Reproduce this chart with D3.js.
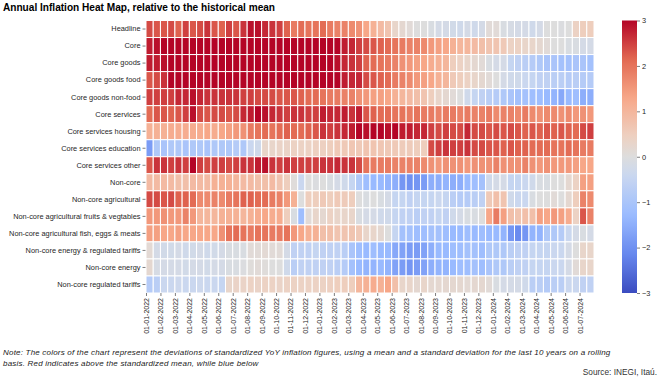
<!DOCTYPE html>
<html>
<head>
<meta charset="utf-8">
<script src="https://cdn.jsdelivr.net/npm/d3@7"></script>
<style>
  body { margin: 0; background: #fff; }
  svg { display: block; font-family: "Liberation Sans", Arial, sans-serif; }
</style>
</head>
<body>
<script>
// Row labels (top to bottom)
const rowNames = [
  'Headline', 'Core', 'Core goods', 'Core goods food', 'Core goods non-food',
  'Core services', 'Core services housing', 'Core services education', 'Core services other',
  'Non-core', 'Non-core agricultural', 'Non-core agricultural fruits & vegtables',
  'Non-core agricultural fish, eggs & meats', 'Non-core energy & regulated tariffs',
  'Non-core energy', 'Non-core regulated tariffs'
]

// x tick labels, one per month (every 2nd biweekly column)
const periods = [
  '01-01-2022', '01-02-2022', '01-03-2022', '01-04-2022', '01-05-2022', '01-06-2022',
  '01-07-2022', '01-08-2022', '01-09-2022', '01-10-2022', '01-11-2022', '01-12-2022',
  '01-01-2023', '01-02-2023', '01-03-2023', '01-04-2023', '01-05-2023', '01-06-2023',
  '01-07-2023', '01-08-2023', '01-09-2023', '01-10-2023', '01-11-2023', '01-12-2023',
  '01-01-2024', '01-02-2024', '01-03-2024', '01-04-2024', '01-05-2024', '01-06-2024',
  '01-07-2024'
]

// colorbar ticks
const cbarTicks = [-3, -2, -1, 0, 1, 2, 3]

// standardized deviations, biweekly, 62 columns each
const headline = [2.4,2.3,2.3,2.4,2.2,2.5,2.3,2.4,2.6,2.3,2.2,2.5,2.3,2.6,2.9,2.9,2.7,2.6,2.5,2.2,1.9,
  2.1,2.0,2.0,2.1,1.9,1.8,1.8,1.7,1.6,1.3,1.1,0.9,0.7,0.3,0.2,0.1,0.0,0.0,-0.1,-0.2,-0.2,
  -0.25,-0.3,-0.2,-0.3,-0.2,0.1,0.1,-0.1,-0.15,-0.2,-0.2,-0.3,-0.2,0.0,0.0,-0.05,0.0,0.4,0.5,0.5]
const core = [2.8,2.9,3,3,3,3,3,3,3,3,3,3,3,3,3,3,3,3,3,3,3,3,3,3,3,3,
  3,2.8,2.7,2.5,2.4,2.3,2.2,2.1,2.0,1.9,1.8,1.8,1.7,1.5,1.4,1.3,
  1.1,1.0,1.0,0.9,0.8,0.7,0.7,0.6,0.4,0.4,0.3,0.3,0.2,0.1,0.0,0.0,-0.1,-0.1,-0.2,-0.2]
const coreGoods = [2.8,2.8,2.9,3,3,3,3,3,3,3,3,3,3,3,3,3,3,3,3,3,3,3,3,3,3,3,
  2.9,2.7,2.6,2.5,2.2,2.1,2.0,1.9,1.8,1.6,1.5,1.4,1.3,1.2,1.1,1.0,
  0.5,0.4,0.3,0.2,0.1,-0.1,-0.2,-0.2,-0.5,-0.6,-0.7,-0.8,-0.9,-1.0,-1.0,-1.1,-1.1,-1.0,-1.0,-1.1]
const coreGoodsFood = [2.3,2.4,2.6,3,3,3,3,3,3,3,3,3,3,3,3,3,3,3,3,3,3,3,3,3,3,3,
  3.0,2.8,2.7,2.7,2.4,2.3,2.2,2.1,1.9,1.8,1.7,1.5,1.4,1.3,1.1,1.0,
  0.6,0.5,0.4,0.3,0.2,0.1,0.0,-0.2,-0.3,-0.3,-0.4,-0.5,-0.6,-0.6,-0.7,-0.7,-0.8,-0.7,-0.8,-0.8]
const coreGoodsNonFood = [2.5,2.5,2.5,2.5,2.7,2.7,2.9,2.7,2.6,2.6,2.6,2.6,2.6,2.5,2.5,2.4,2.4,2.4,2.3,2.3,2.3,
  2.2,2.1,2.1,2.0,1.9,1.9,1.8,1.8,1.6,1.5,1.4,1.4,1.3,1.1,1.0,0.9,0.8,0.7,0.5,0.3,0.2,
  0.1,0.0,-0.3,-0.5,-0.6,-0.7,-0.8,-0.9,-1.0,-1.1,-1.1,-1.2,-1.2,-1.3,-1.4,-1.6,-1.3,-1.2,-1.5,-1.5]
const coreServices = [2.1,2.3,2.3,2.2,2.3,2.5,2.9,2.4,2.3,2.4,2.4,2.3,2.4,2.7,2.8,3.0,2.9,2.7,2.6,2.5,2.6,
  2.6,2.5,2.5,2.8,2.7,2.7,2.8,2.6,2.8,2.3,2.2,2.1,2.1,2.0,2.0,1.9,2.0,1.9,1.9,1.8,1.9,
  1.9,1.8,1.9,1.8,1.8,1.9,1.7,1.8,1.8,1.7,1.9,1.7,1.6,1.7,1.7,1.6,1.7,1.5,1.6,1.5]
const coreServicesHousing = [1.1,1.1,1.1,1.2,1.2,1.2,1.2,1.2,1.3,1.2,1.3,1.4,1.5,1.6,1.9,2.0,2.1,2.0,2.1,2.2,2.1,
  2.1,2.2,2.3,2.6,2.5,2.6,2.7,2.8,3.0,2.9,3.0,3.0,2.9,3.0,2.8,2.8,2.7,2.7,2.5,2.4,2.5,
  2.4,2.4,2.7,2.4,2.4,2.3,2.4,2.3,2.4,2.3,2.2,2.3,2.2,2.3,2.2,2.3,2.2,2.1,2.4,2.5]
const coreServicesEducation = [-1.8,-0.9,-1.0,-0.9,-0.9,-1.0,-0.9,-0.9,-1.0,-0.9,-0.9,-0.9,-0.8,-0.9,-0.4,-0.3,
  0.3,0.3,0.35,0.35,0.4,0.4,0.4,0.45,0.45,0.5,0.6,0.6,0.65,0.6,0.7,0.7,0.65,0.6,0.6,0.55,0.55,0.5,0.5,
  2.4,2.5,2.6,2.5,2.5,2.6,2.4,2.4,2.3,2.3,2.2,2.3,2.2,2.2,2.1,2.1,2.1,2.0,2.0,2.1,2.0,1.9,1.9]
const coreServicesOther = [2.3,2.6,2.6,2.5,2.6,2.5,3.0,2.5,2.4,2.5,2.5,2.4,2.5,2.6,2.6,2.8,2.9,2.6,2.5,2.6,2.5,
  2.5,2.5,2.5,2.6,2.6,2.7,2.6,2.6,2.4,2.0,1.9,1.9,1.9,1.8,1.8,1.8,1.8,1.7,1.6,1.5,1.6,
  1.6,1.6,1.5,1.6,1.6,1.6,1.8,1.6,1.6,1.6,1.8,1.6,1.5,1.6,1.5,1.5,1.5,1.4,1.3,1.3]
const nonCore = [0.9,0.9,0.9,0.9,0.8,0.8,0.9,0.9,0.9,1.1,1.1,1.1,1.0,0.9,0.9,0.8,0.8,0.9,0.7,0.5,0.05,
  -0.4,0.0,-0.05,0.0,-0.1,-0.2,-0.3,-0.5,-0.9,-1.2,-1.3,-1.3,-1.4,-1.5,-1.9,-2.0,-1.9,-1.8,-1.5,-1.5,-1.4,
  -1.5,-1.5,-1.3,-1.2,-1.1,-0.3,-0.2,-0.2,-0.5,-0.5,-0.4,-0.3,-0.1,-0.1,0.0,0.0,0.2,0.4,1.4,1.4]
const nonCoreAgri = [2.4,2.4,2.3,2.4,2.2,2.2,2.1,1.7,1.7,1.8,1.7,1.9,2.0,2.2,2.2,2.1,2.1,1.9,1.8,1.5,1.1,
  0.0,0.5,0.5,0.6,0.5,0.6,0.55,0.5,0.0,-0.1,0.0,-0.1,-0.2,-0.5,-0.5,-0.6,-0.5,-0.5,-0.5,-0.4,-0.5,
  -0.7,-0.8,-0.8,-0.7,-0.6,0.6,0.8,0.7,-0.3,-0.4,-0.4,-0.1,0.0,0.0,0.1,0.0,0.2,0.5,1.8,1.7]
const nonCoreFruitsVeg = [1.5,1.5,1.6,1.5,1.5,1.8,1.5,1.0,1.0,1.0,1.1,1.1,1.1,1.0,1.1,1.2,1.3,1.2,1.2,0.5,-0.1,
  -1.2,0.1,0.3,0.2,0.4,0.3,0.3,0.3,-0.1,-0.2,-0.2,-0.3,-0.3,-0.5,-0.6,-0.6,-0.7,-0.6,-0.6,-0.5,-0.6,
  -0.3,-0.2,-0.1,-0.1,0.0,1.3,1.9,1.4,0.8,0.7,0.8,0.8,1.4,1.3,1.5,1.4,1.2,0.4,2.3,1.8]
const nonCoreFishEggsMeats = [1.4,1.4,1.3,1.3,1.4,1.3,1.3,1.3,1.3,1.3,1.6,2.0,2.1,2.0,1.9,2.0,2.0,1.9,1.9,2.0,1.5,
  1.3,1.1,1.1,0.8,0.8,0.7,0.7,0.7,0.6,0.3,0.3,0.2,0.0,-0.5,-1.1,-1.1,-1.2,-1.2,-1.1,-1.1,-1.2,
  -1.3,-1.3,-1.2,-1.3,-1.2,-1.3,-1.3,-1.4,-1.9,-2.1,-1.9,-1.4,-1.4,-0.9,-0.9,-0.8,-0.4,-0.2,-0.1,-0.2]
const nonCoreEnergyTariffs = [0.15,-0.2,-0.25,-0.25,-0.2,-0.3,-0.25,-0.2,-0.3,-0.25,-0.2,-0.1,-0.1,-0.1,0.1,0.1,0.15,0.1,0.1,-0.2,-0.6,
  -0.6,-0.6,-0.5,-0.6,-0.6,-0.6,-0.7,-1.0,-1.2,-1.3,-1.2,-1.3,-1.3,-1.6,-1.7,-1.8,-1.8,-1.7,-1.5,-1.3,-1.3,
  -1.2,-1.2,-1.1,-1.1,-1.2,-0.9,-0.9,-0.9,-0.7,-0.6,-0.6,-0.5,-0.5,-0.5,-0.4,-0.4,-0.2,0.0,0.3,0.3]
const nonCoreEnergy = [0.2,-0.15,-0.2,-0.2,-0.2,-0.25,-0.2,-0.2,-0.25,-0.2,-0.2,-0.1,-0.1,-0.05,0.05,0.1,0.05,0.0,0.0,-0.3,-0.7,
  -0.6,-0.6,-0.6,-0.6,-0.6,-0.7,-0.8,-1.1,-1.3,-1.4,-1.4,-1.3,-1.4,-1.7,-1.8,-1.9,-1.8,-1.7,-1.5,-1.4,-1.4,
  -1.3,-1.2,-1.2,-1.1,-1.2,-1.0,-0.9,-0.9,-0.7,-0.6,-0.6,-0.5,-0.5,-0.5,-0.4,-0.4,-0.2,0.1,0.3,0.3]
const nonCoreTariffs = [-0.8,-0.7,-0.4,-0.4,-0.35,-0.4,-0.4,-0.35,-0.4,-0.4,-0.5,0.3,0.35,0.35,0.4,0.35,0.4,0.4,0.35,0.4,0.4,
  0.4,0.4,0.4,0.4,0.45,0.5,0.5,0.5,1.0,1.1,1.2,1.1,1.3,0.8,0.3,0.3,0.2,0.3,0.2,0.2,0.2,
  0.2,0.2,0.15,0.2,0.2,0.1,-0.1,-0.2,-0.2,-0.2,-0.3,-0.7,-0.7,-0.8,-0.7,-0.7,-0.4,-0.4,-0.6,-0.6]

const series = [headline, core, coreGoods, coreGoodsFood, coreGoodsNonFood, coreServices,
  coreServicesHousing, coreServicesEducation, coreServicesOther, nonCore, nonCoreAgri,
  nonCoreFruitsVeg, nonCoreFishEggsMeats, nonCoreEnergyTariffs, nonCoreEnergy, nonCoreTariffs]

series.forEach((s, i) => {
  if (s.length !== 62) throw new Error(rowNames[i] + ' has ' + s.length + ' values')
})

const nCols = 62
const width = 660, height = 379
const heat = { left: 146, right: 594, top: 20.5, bottom: 293 }

// coolwarm, clipped at +-3
const cwStops = ['#3b4cc0', '#6788ee', '#9abbff', '#c9d7f0', '#dddddd', '#edd1c2', '#f7a889', '#e26952', '#b40426']
const cwDomain = [-3, -3 + 6 / 7, -3 + 12 / 7, -3 + 18 / 7, 0, 3 - 18 / 7, 3 - 12 / 7, 3 - 6 / 7, 3]
const color = d3.scaleLinear().domain(cwDomain).range(cwStops).clamp(true)

const svg = d3.select('body').append('svg')
  .attr('width', width)
  .attr('height', height)

svg.append('text')
  .attr('x', 3)
  .attr('y', 11)
  .style('font-weight', 'bold')
  .style('font-size', '10.1px')
  .attr('fill', '#000')
  .text('Annual Inflation Heat Map, relative to the historical mean')

const x = d3.scaleBand().domain(d3.range(nCols)).range([heat.left, heat.right])
const xEdge = d3.scaleLinear().domain([0, nCols]).range([heat.left, heat.right])
const y = d3.scaleBand().domain(rowNames).range([heat.top, heat.bottom])

// cells
const cells = []
series.forEach((values, r) => {
  values.forEach((v, c) => cells.push({ row: rowNames[r], col: c, value: v }))
})

svg.append('g')
  .selectAll('rect')
  .data(cells)
  .enter().append('rect')
  .attr('x', d => x(d.col))
  .attr('y', d => y(d.row))
  .attr('width', x.bandwidth())
  .attr('height', y.bandwidth())
  .attr('fill', d => color(d.value))
  .attr('stroke', '#fff')
  .attr('stroke-width', 1)

// y axis
const yAxis = svg.append('g')
  .attr('transform', `translate(${heat.left - 0.5}, 0)`)
  .call(d3.axisLeft(y).tickSize(3).tickPadding(2))
yAxis.select('.domain').remove()
yAxis.selectAll('text').style('font-size', '7.4px').attr('fill', '#262626')
yAxis.selectAll('line').attr('stroke', '#262626').attr('stroke-width', 0.6)

// x axis, a tick at the start of each month
const xAxis = svg.append('g')
  .attr('transform', `translate(0, ${heat.bottom})`)
  .call(d3.axisBottom(xEdge)
    .tickValues(d3.range(0, nCols, 2))
    .tickFormat(i => periods[i / 2])
    .tickSize(3))
xAxis.select('.domain').remove()
xAxis.selectAll('line').attr('stroke', '#262626').attr('stroke-width', 0.6)
xAxis.selectAll('text')
  .style('font-size', '7px')
  .attr('fill', '#262626')
  .attr('text-anchor', 'end')
  .attr('transform', 'rotate(-90)')
  .attr('x', -5)
  .attr('y', 0)
  .attr('dy', '0.35em')

// colorbar
const cbar = { left: 622, width: 15 }
const cy = d3.scaleLinear().domain([-3, 3]).range([heat.bottom, heat.top])
const defs = svg.append('defs')
const grad = defs.append('linearGradient')
  .attr('id', 'cw')
  .attr('x1', 0).attr('y1', 1).attr('x2', 0).attr('y2', 0)
grad.selectAll('stop')
  .data(d3.range(0, 1.0001, 0.02))
  .enter().append('stop')
  .attr('offset', t => t)
  .attr('stop-color', t => color(-3 + 6 * t))
svg.append('rect')
  .attr('x', cbar.left)
  .attr('y', heat.top)
  .attr('width', cbar.width)
  .attr('height', heat.bottom - heat.top)
  .attr('fill', 'url(#cw)')

const cAxis = svg.append('g')
  .attr('transform', `translate(${cbar.left + cbar.width}, 0)`)
  .call(d3.axisRight(cy).tickValues(cbarTicks).tickFormat(d3.format('d')).tickSize(3).tickPadding(2))
cAxis.select('.domain').remove()
cAxis.selectAll('text').style('font-size', '7.4px').attr('fill', '#262626')
cAxis.selectAll('line').attr('stroke', '#262626').attr('stroke-width', 0.6)

// footnotes
const note = svg.append('text')
  .attr('x', 3)
  .style('font-style', 'italic')
  .style('font-size', '8px')
  .style('letter-spacing', '0.2px')
  .attr('fill', '#1a1a1a')
note.append('tspan').attr('x', 3).attr('y', 355)
  .text('Note: The colors of the chart represent the deviations of standardized YoY inflation figures, using a mean and a standard deviation for the last 10 years on a rolling')
note.append('tspan').attr('x', 3).attr('y', 366)
  .text('basis. Red indicates above the standardized mean, while blue below')

svg.append('text')
  .attr('x', 657)
  .attr('y', 375)
  .attr('text-anchor', 'end')
  .style('font-size', '8.3px')
  .attr('fill', '#333')
  .text('Source: INEGI, Itaú.')
</script>
</body>
</html>
